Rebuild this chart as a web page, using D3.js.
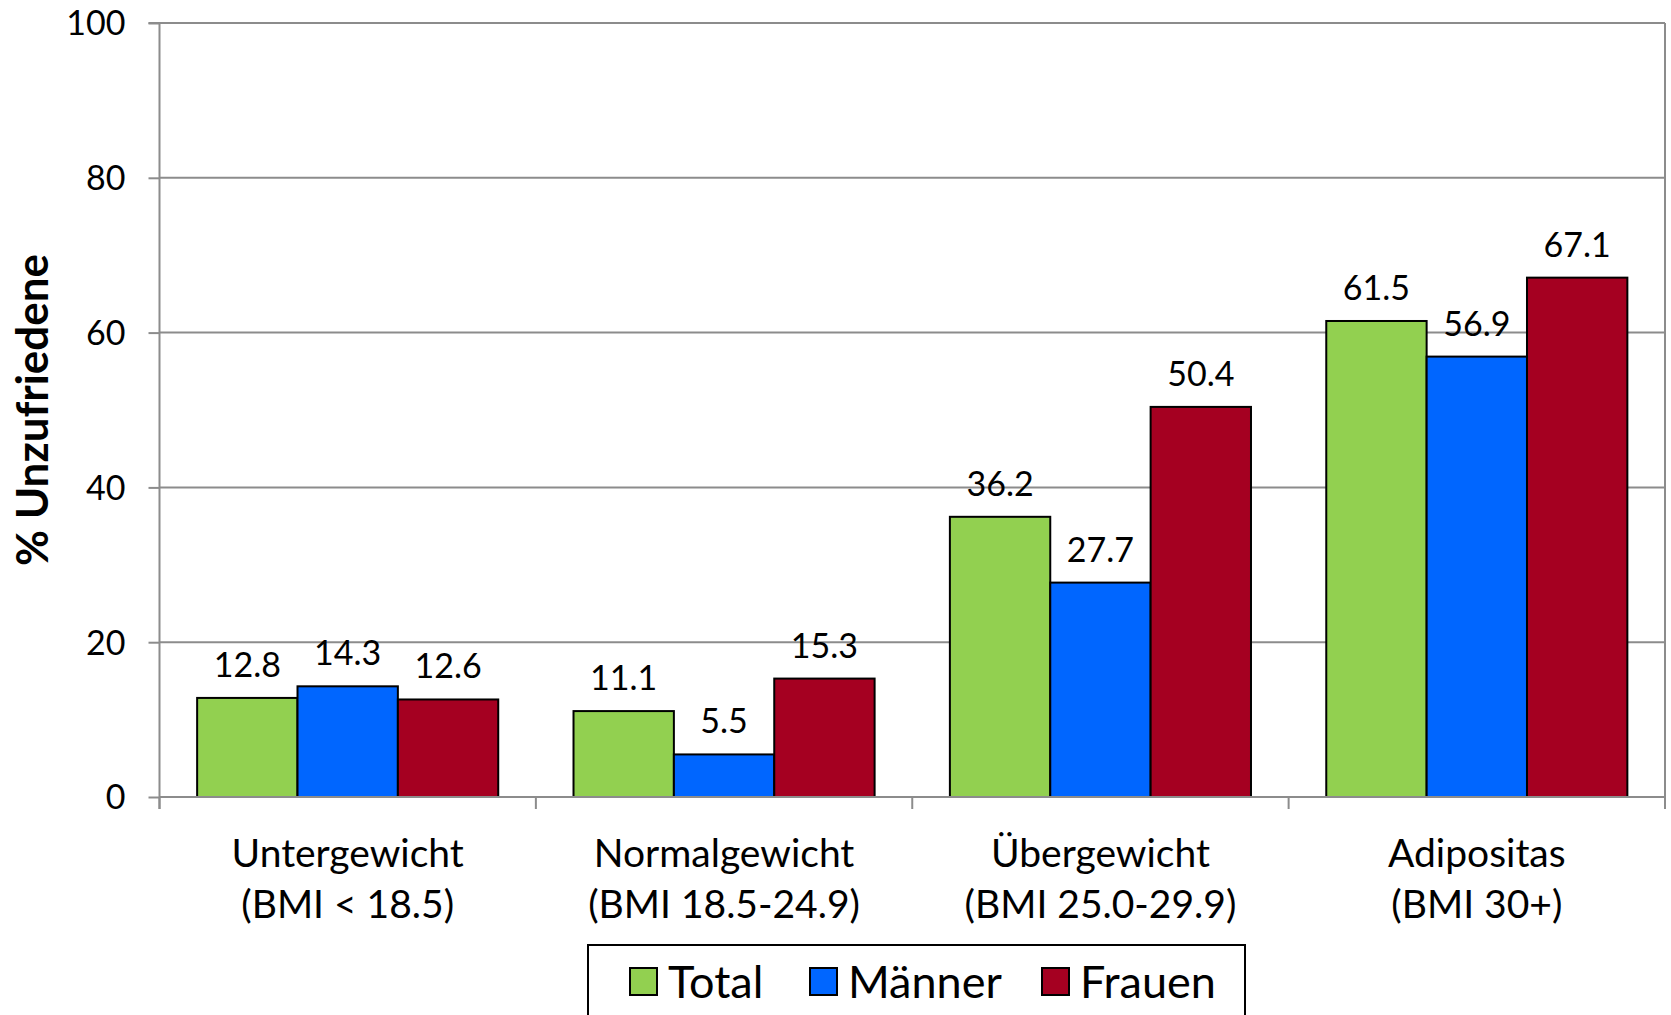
<!DOCTYPE html>
<html><head><meta charset="utf-8">
<script src="https://cdn.jsdelivr.net/npm/d3@7"></script>
<style>body{margin:0;background:#fff}svg{display:block}text{font-family:Lato,"Open Sans",sans-serif;fill:#000}</style>
</head><body><svg id="c" width="1671" height="1015"></svg>
<script>
const categories = ["Untergewicht|(BMI < 18.5)","Normalgewicht|(BMI 18.5-24.9)","Übergewicht|(BMI 25.0-29.9)","Adipositas|(BMI 30+)"];
const seriesNames = ["Total","Männer","Frauen"];
const total  = [12.8, 11.1, 36.2, 61.5];
const maenner = [14.3, 5.5, 27.7, 56.9];
const frauen = [12.6, 15.3, 50.4, 67.1];
const yTicks = [0,20,40,60,80,100];
const colors = ["#92D050","#0066FF","#A50021"];
const series = [total, maenner, frauen];

const svg = d3.select("#c");
const L=159.5, R=1665, T=23, B=797;
const x0 = d3.scaleBand().domain(categories).range([L,R]).paddingInner(0).paddingOuter(0);
const x1 = d3.scaleBand().domain(seriesNames).range([0,x0.bandwidth()]).paddingInner(0).paddingOuter(0.375);
const y = d3.scaleLinear().domain([0,100]).range([B,T]);

// gridlines
svg.append("g").selectAll("line").data(yTicks.filter(d=>d>0)).join("line")
  .attr("x1",L).attr("x2",R).attr("y1",d=>y(d)).attr("y2",d=>y(d))
  .attr("stroke","#8c8c8c").attr("stroke-width",2);
// right border
svg.append("line").attr("x1",R).attr("x2",R).attr("y1",T).attr("y2",B+12).attr("stroke","#8c8c8c").attr("stroke-width",2);

// bars
const g = svg.append("g");
categories.forEach((c,i)=>{
  seriesNames.forEach((s,j)=>{
    const v = series[j][i];
    g.append("rect").attr("x",x0(c)+x1(s)).attr("y",y(v)).attr("width",x1.bandwidth()).attr("height",B-y(v))
      .attr("fill",colors[j]).attr("stroke","#000").attr("stroke-width",2);
    g.append("text").attr("x",x0(c)+x1(s)+x1.bandwidth()/2).attr("y",y(v)-21).attr("text-anchor","middle")
      .attr("font-size",34).text(v.toFixed(1));
  });
});

// y axis
const ya = d3.axisLeft(y).tickValues(yTicks).tickSize(11).tickPadding(23).tickFormat(d3.format("d"));
const yg = svg.append("g").attr("transform",`translate(${L},0)`).call(ya);
yg.select(".domain").attr("stroke","#8c8c8c").attr("stroke-width",2).attr("d",`M-11,${T}H0V${B+12}`);
yg.selectAll(".tick line").attr("stroke","#8c8c8c").attr("stroke-width",2);
yg.selectAll(".tick text").attr("font-size",34).attr("font-family","Lato").attr("fill","#000").attr("dy","0.35em");

// x axis
const xa = d3.axisBottom(x0).tickSize(0).tickFormat("");
const xg = svg.append("g").attr("transform",`translate(0,${B})`).call(xa);
xg.select(".domain").attr("stroke","#8c8c8c").attr("stroke-width",2).attr("d",`M${L},0H${R}`);
xg.selectAll(".tick").remove();
const bounds = categories.map(c=>x0(c)).concat([R]);
xg.selectAll("line.sep").data(bounds).join("line").attr("class","sep")
  .attr("x1",d=>d).attr("x2",d=>d).attr("y1",0).attr("y2",12).attr("stroke","#8c8c8c").attr("stroke-width",2);
categories.forEach(c=>{
  const parts = c.split("|");
  const cx = x0(c)+x0.bandwidth()/2;
  const t = svg.append("text").attr("x",cx).attr("text-anchor","middle").attr("font-size",39);
  t.append("tspan").attr("x",cx).attr("y",867).text(parts[0]);
  t.append("tspan").attr("x",cx).attr("y",918).text(parts[1]);
});

// y title
svg.append("text").attr("transform",`translate(48,410) rotate(-90)`).attr("text-anchor","middle")
  .attr("font-size",44).attr("font-weight","bold").text("% Unzufriedene");

// legend
svg.append("rect").attr("x",588).attr("y",945).attr("width",657).attr("height",90).attr("fill","#fff").attr("stroke","#000").attr("stroke-width",2);
const legX = [630, 810, 1042];
seriesNames.forEach((s,j)=>{
  svg.append("rect").attr("x",legX[j]).attr("y",968).attr("width",27).attr("height",27).attr("fill",colors[j]).attr("stroke","#000").attr("stroke-width",2);
  svg.append("text").attr("x",legX[j]+38).attr("y",998).attr("font-size",45).text(s);
});
</script></body></html>
